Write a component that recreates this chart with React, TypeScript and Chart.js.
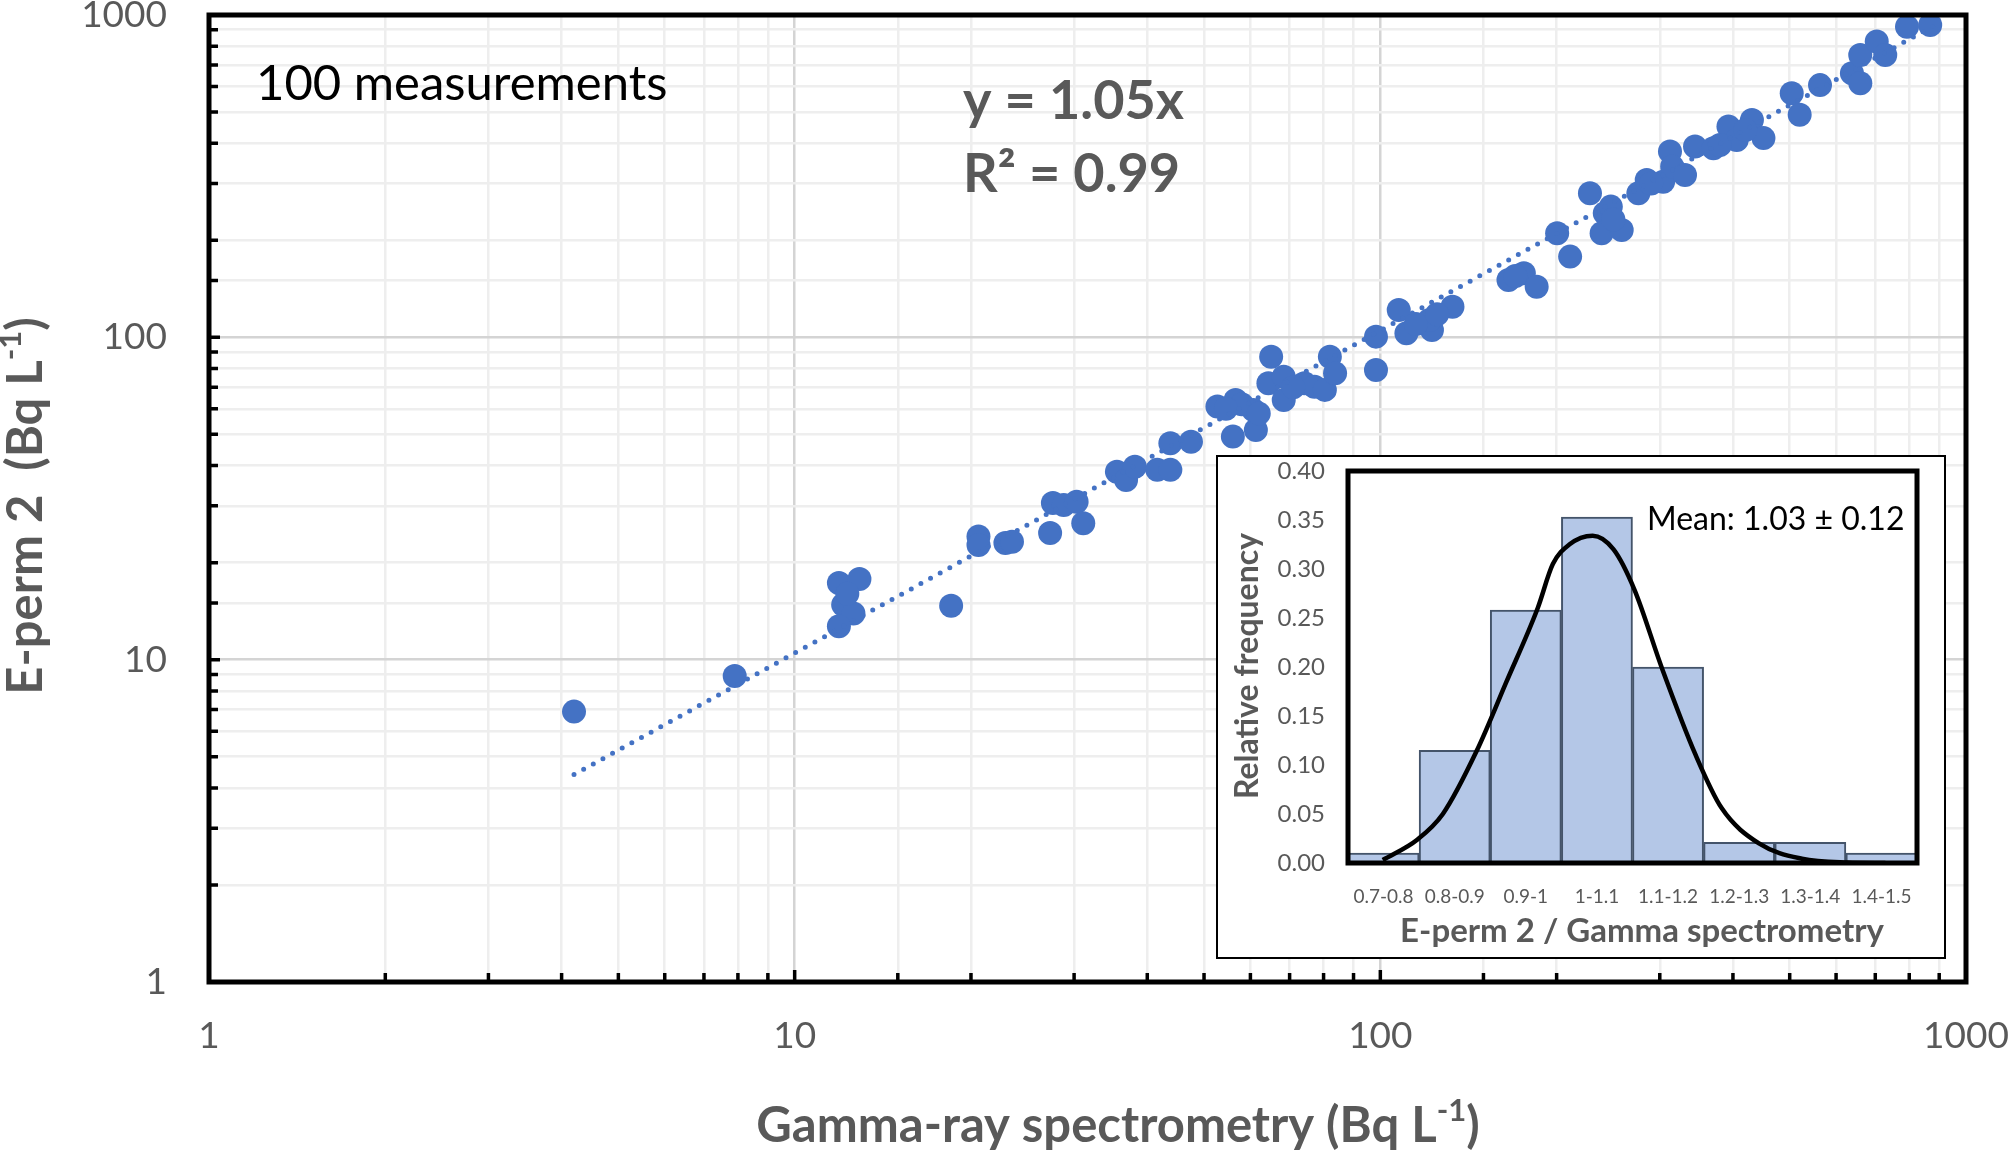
import React, { useEffect, useRef } from "react";
import { Chart, registerables } from "chart.js";

Chart.register(...registerables);
Chart.defaults.font.family = "Lato, 'Open Sans', sans-serif";

// Gamma-ray spectrometry (x) vs E-perm 2 (y), Bq/L
const gammaValues = [
  4.2, 7.9, 11.9, 12.9, 12.1, 12.6, 11.9, 12.3, 18.5, 20.6,
  20.6, 22.9, 23.5, 27.3, 27.6, 28.8, 30.3, 31.1, 35.5, 36.8,
  38.1, 41.6, 43.8, 43.8, 47.5, 52.7, 56.6, 60.7, 56.0, 61.3,
  58.0, 65.1, 64.4, 68.4, 68.4, 74.2, 77.2, 80.4, 82.0, 83.7,
  71.0, 98.3, 98.3, 107.5, 110.8, 122.5, 121.3, 132.8, 115.0, 165.5,
  175.8, 184.9, 200.4, 210.9, 228.0, 241.7, 238.7, 258.3, 247.5,
  275.8, 285.0, 304.0, 312.3, 315.0, 331.3, 344.6, 370.5, 393.0, 406.0,
  431.0, 451.0, 420.0, 504.0, 520.0, 563.3, 638.6, 660.0, 659.8, 704.0,
  728.0, 793.0, 868.7, 380.0, 290.0, 250.0, 62.0, 54.5, 125.0, 170.0,
];
const epermValues = [
  6.9, 8.9, 17.3, 17.8, 14.8, 13.9, 12.7, 16.0, 14.7, 24.1,
  22.7, 23.0, 23.2, 24.7, 30.6, 30.2, 30.9, 26.5, 38.3, 36.1,
  39.7, 38.8, 38.8, 46.9, 47.4, 61.0, 63.9, 59.5, 49.2, 51.6,
  62.0, 87.1, 72.0, 75.5, 63.9, 72.0, 70.3, 68.7, 87.1, 77.4,
  70.0, 100.5, 79.2, 121.6, 103.0, 105.4, 113.2, 124.5, 110.0, 150.7,
  158.1, 143.6, 210.4, 178.0, 280.0, 242.6, 210.4, 215.4, 254.4,
  280.0, 307.7, 304.0, 376.9, 338.6, 319.0, 390.8, 386.0, 450.6, 409.7,
  472.0, 415.0, 440.0, 572.0, 490.0, 606.0, 659.8, 614.0, 752.0, 827.0,
  752.0, 920.0, 931.0, 395.0, 300.0, 232.0, 58.0, 60.0, 118.0, 155.0,
];
// dotted trend line y = 1.05x, end points
const trendX = [4.2, 890];
const trendY = [4.4, 935];
const decadeLabels = [1, 10, 100, 1000];

// inset histogram of the ratio E-perm 2 / Gamma spectrometry
const ratioBins = ["0.7-0.8", "0.8-0.9", "0.9-1", "1-1.1", "1.1-1.2", "1.2-1.3", "1.3-1.4", "1.4-1.5"];
const binFrequency = [0.01, 0.115, 0.258, 0.353, 0.2, 0.021, 0.021, 0.01];
const curveRatio = [0.705, 0.76, 0.8, 0.854, 0.9, 0.95, 0.974, 1.0, 1.037, 1.07, 1.103, 1.147, 1.2, 1.241, 1.3, 1.368, 1.44, 1.5];
const curveFrequency = [0.003, 0.024, 0.05, 0.115, 0.184, 0.26, 0.305, 0.325, 0.334, 0.32, 0.279, 0.198, 0.11, 0.056, 0.02, 0.0044, 0.0005, 0.0];

const GRAY = "#595959";
const BLUE = "#4472C4";

type Part = { text: string; font: string; dy?: number };

function drawParts(ctx: CanvasRenderingContext2D, parts: Part[], x: number, y: number, align: "left" | "center") {
  const widths = parts.map((p) => {
    ctx.font = p.font;
    return ctx.measureText(p.text).width;
  });
  const total = widths.reduce((a, b) => a + b, 0);
  let cx = align === "center" ? x - total / 2 : x;
  ctx.textAlign = "left";
  ctx.textBaseline = "middle";
  parts.forEach((p, i) => {
    ctx.font = p.font;
    ctx.fillText(p.text, cx, y + (p.dy || 0));
    cx += widths[i];
  });
}

const isDecade = (v: number) => Math.abs(Math.log10(v) - Math.round(Math.log10(v))) < 1e-9;

const mainDecor = {
  id: "mainDecor",
  afterDraw(chart: any) {
    const ctx: CanvasRenderingContext2D = chart.ctx;
    const { left, right, top, bottom } = chart.chartArea;
    const xs = chart.scales.x;
    const ys = chart.scales.y;
    ctx.save();
    // inward tick marks
    ctx.strokeStyle = "#000";
    ctx.lineWidth = 3.5;
    ctx.beginPath();
    ys.ticks.forEach((t: any) => {
      const py = ys.getPixelForValue(t.value);
      ctx.moveTo(left, py);
      ctx.lineTo(left + (isDecade(t.value) ? 11 : 9), py);
    });
    xs.ticks.forEach((t: any) => {
      const px = xs.getPixelForValue(t.value);
      ctx.moveTo(px, bottom);
      ctx.lineTo(px, bottom - (isDecade(t.value) ? 12 : 9));
    });
    ctx.stroke();
    // frame
    ctx.lineWidth = 5;
    ctx.strokeRect(left, top, right - left, bottom - top);

    // axis titles
    ctx.fillStyle = GRAY;
    drawParts(
      ctx,
      [
        { text: "Gamma-ray spectrometry (Bq L", font: "bold 49px Lato" },
        { text: "-1", font: "bold 31px Lato", dy: -15 },
        { text: ")", font: "bold 49px Lato" },
      ],
      1118,
      1126,
      "center"
    );
    ctx.save();
    ctx.translate(26, 506);
    ctx.rotate(-Math.PI / 2);
    drawParts(
      ctx,
      [
        { text: "E-perm 2  (Bq L", font: "bold 49px Lato" },
        { text: "-1", font: "bold 31px Lato", dy: -15 },
        { text: ")", font: "bold 49px Lato" },
      ],
      0,
      0,
      "center"
    );
    ctx.restore();

    // annotations
    ctx.fillStyle = "#000";
    drawParts(ctx, [{ text: "100 measurements", font: "49px Lato" }], 256, 84, "left");
    ctx.fillStyle = GRAY;
    drawParts(ctx, [{ text: "y = 1.05x", font: "bold 54px Lato" }], 963, 102, "left");
    drawParts(ctx, [{ text: "R\u00B2 = 0.99", font: "bold 54px Lato" }], 963, 175, "left");
    ctx.restore();
  },
};

const insetDecor = {
  id: "insetDecor",
  afterDraw(chart: any) {
    const ctx: CanvasRenderingContext2D = chart.ctx;
    const { left, right, top, bottom } = chart.chartArea;
    ctx.save();
    ctx.strokeStyle = "#000";
    ctx.lineWidth = 5;
    ctx.strokeRect(left, top, right - left, bottom - top);
    ctx.fillStyle = GRAY;
    drawParts(ctx, [{ text: "E-perm 2 / Gamma spectrometry", font: "bold 33px Lato" }], 424, 474, "center");
    ctx.save();
    ctx.translate(30, 209);
    ctx.rotate(-Math.PI / 2);
    drawParts(ctx, [{ text: "Relative frequency", font: "bold 32px Lato" }], 0, 0, "center");
    ctx.restore();
    ctx.fillStyle = "#000";
    drawParts(ctx, [{ text: "Mean: 1.03 \u00B1 0.12", font: "32px Lato" }], 429, 63, "left");
    ctx.restore();
  },
};

const MainChart = () => {
  const canvasRef = useRef<HTMLCanvasElement>(null);
  useEffect(() => {
    if (!canvasRef.current) return;
    const points = gammaValues.map((g, i) => ({ x: g, y: epermValues[i] }));
    const trend = trendX.map((t, i) => ({ x: t, y: trendY[i] }));
    const gridColor = (c: any) => (c.tick && isDecade(c.tick.value) ? "#d4d4d4" : "#eeeeee");
    const chart = new Chart(canvasRef.current, {
      type: "scatter",
      data: {
        datasets: [
          {
            type: "line",
            data: trend,
            borderColor: BLUE,
            borderWidth: 5,
            borderDash: [0, 11],
            borderCapStyle: "round",
            pointRadius: 0,
            order: 0,
          } as any,
          {
            data: points,
            backgroundColor: BLUE,
            borderWidth: 0,
            pointRadius: 12,
            order: 1,
          },
        ],
      },
      options: {
        responsive: false,
        animation: false,
        layout: { padding: { top: 15, right: 42, left: 0, bottom: 0 } },
        plugins: { legend: { display: false }, tooltip: { enabled: false } },
        scales: {
          x: {
            type: "logarithmic",
            min: 1,
            max: 1000,
            border: { display: false },
            grid: { color: gridColor, lineWidth: 2.5, drawTicks: false },
            ticks: {
              autoSkip: false,
              maxRotation: 0,
              padding: 32,
              color: GRAY,
              font: { size: 37 },
              callback: (v: any) => (decadeLabels.includes(Number(v)) ? String(v) : ""),
            },
            afterFit: (s: any) => {
              s.height = 169;
              s.paddingLeft = 0;
              s.paddingRight = 0;
            },
          },
          y: {
            type: "logarithmic",
            min: 1,
            max: 1000,
            border: { display: false },
            grid: { color: gridColor, lineWidth: 2.5, drawTicks: false },
            ticks: {
              autoSkip: false,
              padding: 42,
              color: GRAY,
              font: { size: 37 },
              callback: (v: any) => (decadeLabels.includes(Number(v)) ? String(v) : ""),
            },
            afterFit: (s: any) => {
              s.width = 209;
              s.paddingTop = 0;
              s.paddingBottom = 0;
            },
          },
        },
      },
      plugins: [mainDecor],
    });
    return () => chart.destroy();
  }, []);
  return <canvas ref={canvasRef} width={2008} height={1151} />;
};

const InsetChart = () => {
  const canvasRef = useRef<HTMLCanvasElement>(null);
  useEffect(() => {
    if (!canvasRef.current) return;
    const curve = curveRatio.map((r, i) => ({ x: r, y: curveFrequency[i] }));
    const chart = new Chart(canvasRef.current, {
      type: "bar",
      data: {
        labels: ratioBins,
        datasets: [
          {
            type: "line",
            data: curve,
            xAxisID: "x2",
            borderColor: "#000",
            borderWidth: 4.5,
            pointRadius: 0,
            cubicInterpolationMode: "monotone",
            order: 0,
          } as any,
          {
            data: binFrequency,
            xAxisID: "x",
            backgroundColor: "#B4C7E7",
            borderColor: "#44546A",
            borderWidth: 2,
            barPercentage: 1,
            categoryPercentage: 1,
            grouped: false,
            order: 1,
          },
        ],
      },
      options: {
        responsive: false,
        animation: false,
        layout: { padding: { top: 14, right: 27, left: 0, bottom: 0 } },
        plugins: { legend: { display: false }, tooltip: { enabled: false } },
        scales: {
          x: {
            type: "category",
            offset: true,
            border: { display: false },
            grid: { display: false, drawTicks: false },
            ticks: { autoSkip: false, maxRotation: 0, padding: 22, color: GRAY, font: { size: 19 } },
            afterFit: (s: any) => {
              s.height = 94;
              s.paddingLeft = 0;
              s.paddingRight = 0;
            },
          },
          x2: { type: "linear", min: 0.7, max: 1.5, display: false },
          y: {
            min: 0,
            max: 0.4,
            border: { display: false },
            grid: { display: false, drawTicks: false },
            ticks: {
              stepSize: 0.05,
              padding: 23,
              color: GRAY,
              font: { size: 24 },
              callback: (v: any) => Number(v).toFixed(2),
            },
            afterFit: (s: any) => {
              s.width = 130;
              s.paddingTop = 0;
              s.paddingBottom = 0;
            },
          },
        },
      },
      plugins: [insetDecor],
    });
    return () => chart.destroy();
  }, []);
  return <canvas ref={canvasRef} width={726} height={500} />;
};

export default function App() {
  return (
    <div style={{ position: "absolute", left: 0, top: 0, width: 2008, height: 1151, background: "#fff" }}>
      <MainChart />
      <div
        style={{
          position: "absolute",
          left: 1216,
          top: 455,
          width: 730,
          height: 504,
          border: "2px solid #000",
          boxSizing: "border-box",
          background: "#fff",
        }}
      >
        <InsetChart />
      </div>
    </div>
  );
}
